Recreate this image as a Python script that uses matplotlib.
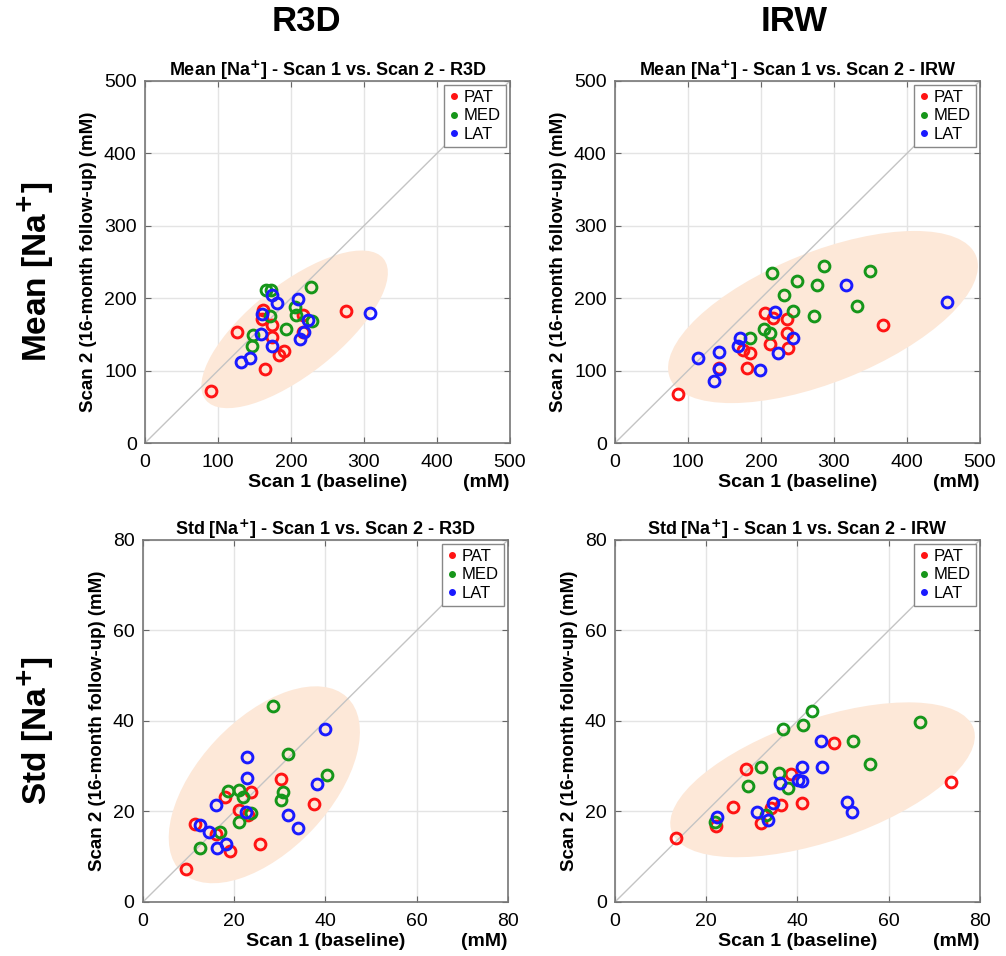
import numpy as np
import matplotlib
matplotlib.use("Agg")
import matplotlib.pyplot as plt
from matplotlib.patches import Ellipse
from matplotlib.lines import Line2D

plt.rcParams['font.family'] = ['Liberation Sans', 'DejaVu Sans']

# ---- data (scan 1 baseline, scan 2 follow-up) ----
# Mean [Na+], R3D
r3d_mean_pat_x = [91, 126, 165, 162, 161, 174, 174, 183, 191, 217, 217, 276]
r3d_mean_pat_y = [72, 154, 102, 184, 171, 163, 147, 122, 127, 177, 154, 183]
r3d_mean_med_x = [166, 172, 227, 206, 207, 229, 193, 148, 147, 171]
r3d_mean_med_y = [211, 212, 216, 188, 177, 169, 157, 149, 134, 175]
r3d_mean_lat_x = [174, 181, 210, 161, 224, 218, 212, 159, 174, 144, 132, 308]
r3d_mean_lat_y = [204, 194, 199, 178, 170, 154, 143, 151, 134, 118, 112, 180]

# Mean [Na+], IRW
irw_mean_pat_x = [86, 143, 181, 176, 185, 212, 237, 235, 206, 217, 235, 367]
irw_mean_pat_y = [68, 103, 104, 129, 125, 137, 131, 152, 179, 173, 171, 163]
irw_mean_med_x = [215, 286, 349, 250, 277, 231, 244, 272, 332, 204, 213, 185]
irw_mean_med_y = [235, 244, 238, 224, 218, 205, 182, 175, 189, 157, 152, 145]
irw_mean_lat_x = [219, 316, 455, 171, 168, 244, 223, 142, 114, 142, 136, 199]
irw_mean_lat_y = [181, 218, 195, 145, 134, 145, 124, 126, 118, 102, 86, 101]

# Std [Na+], R3D
r3d_std_pat_x = [9.4, 11.3, 16.0, 19.0, 18.0, 21.1, 23.7, 23.1, 25.7, 30.3, 37.6]
r3d_std_pat_y = [7.3, 17.2, 15.0, 11.3, 23.2, 20.3, 24.2, 19.2, 12.8, 27.2, 21.6]
r3d_std_med_x = [28.5, 31.8, 40.4, 30.7, 30.3, 18.6, 21.1, 22.0, 23.7, 21.1, 16.9, 12.5]
r3d_std_med_y = [43.3, 32.8, 28.0, 24.2, 22.5, 24.6, 24.7, 23.2, 19.6, 17.7, 15.5, 12.0]
r3d_std_lat_x = [39.8, 22.8, 22.8, 38.2, 16.0, 22.6, 31.9, 34.0, 12.5, 14.4, 16.3, 18.2]
r3d_std_lat_y = [38.3, 32.1, 27.3, 26.0, 21.4, 19.8, 19.2, 16.3, 17.0, 15.4, 12.0, 12.8]

# Std [Na+], IRW
irw_std_pat_x = [13.4, 22.2, 25.8, 28.7, 32.1, 34.1, 36.3, 38.5, 40.9, 48.0, 73.6]
irw_std_pat_y = [14.1, 16.8, 21.0, 29.3, 17.5, 20.7, 21.4, 28.2, 21.9, 35.2, 26.6]
irw_std_med_x = [22.0, 29.1, 32.1, 35.9, 38.0, 36.9, 41.3, 43.1, 52.2, 56.0, 66.9, 33.0]
irw_std_med_y = [17.7, 25.6, 29.9, 28.4, 25.1, 38.2, 39.2, 42.2, 35.5, 30.6, 39.8, 19.2]
irw_std_lat_x = [22.3, 31.1, 33.6, 34.7, 36.1, 40.1, 41.0, 40.9, 45.2, 45.4, 50.8, 52.0]
irw_std_lat_y = [18.8, 19.8, 18.1, 21.9, 26.2, 26.9, 26.8, 29.9, 35.6, 29.9, 22.0, 19.8]

groups = ['PAT', 'MED', 'LAT']
colors = {'PAT': '#ff1414', 'MED': '#16961a', 'LAT': '#1a1aff'}

panels = [
    dict(title='Mean [Na$^{\\mathbf{+}}$] - Scan 1 vs. Scan 2 - R3D', lim=500, step=100,
         pts=[(r3d_mean_pat_x, r3d_mean_pat_y), (r3d_mean_med_x, r3d_mean_med_y),
              (r3d_mean_lat_x, r3d_mean_lat_y)],
         ell=((205, 157), 312, 124, 38.7), pos=[0.1441, 0.5366, 0.3628, 0.3787]),
    dict(title='Mean [Na$^{\\mathbf{+}}$] - Scan 1 vs. Scan 2 - IRW', lim=500, step=100,
         pts=[(irw_mean_pat_x, irw_mean_pat_y), (irw_mean_med_x, irw_mean_med_y),
              (irw_mean_lat_x, irw_mean_lat_y)],
         ell=((285, 174), 452, 180, 22), pos=[0.6113, 0.5366, 0.3628, 0.3787]),
    dict(title='Std [Na$^{\\mathbf{+}}$] - Scan 1 vs. Scan 2 - R3D', lim=80, step=20,
         pts=[(r3d_std_pat_x, r3d_std_pat_y), (r3d_std_med_x, r3d_std_med_y),
              (r3d_std_lat_x, r3d_std_lat_y)],
         ell=((26.6, 25.9), 53.0, 29, 47), pos=[0.1421, 0.0565, 0.3628, 0.3787]),
    dict(title='Std [Na$^{\\mathbf{+}}$] - Scan 1 vs. Scan 2 - IRW', lim=80, step=20,
         pts=[(irw_std_pat_x, irw_std_pat_y), (irw_std_med_x, irw_std_med_y),
              (irw_std_lat_x, irw_std_lat_y)],
         ell=((45.5, 27.0), 70, 27, 19), pos=[0.6113, 0.0565, 0.3628, 0.3787]),
]

fig = plt.figure(figsize=(10.06, 9.56), dpi=100)

for p in panels:
    ax = fig.add_axes(p['pos'])
    lim = p['lim']
    ax.set_xlim(0, lim)
    ax.set_ylim(0, lim)
    ticks = np.arange(0, lim + 1, p['step'])
    ax.set_xticks(ticks)
    ax.set_yticks(ticks)
    ax.grid(True, color='#e4e4e4', linewidth=1)
    ax.set_axisbelow(True)
    ax.tick_params(direction='in', top=True, right=True, length=4,
                   labelsize=14, color='#666666')
    ax.tick_params(axis='x', pad=8)
    ax.tick_params(axis='y', pad=6)
    for s in ax.spines.values():
        s.set_color('#777777')
        s.set_linewidth(1.2)

    (cx, cy), w, h, ang = p['ell']
    ax.add_patch(Ellipse((cx, cy), w, h, angle=ang, facecolor='#fde8d8',
                         edgecolor='none', zorder=1))
    ax.plot([0, lim], [0, lim], color='#c4c4c4', linewidth=1, zorder=2)

    for g, (xs, ys) in zip(groups, p['pts']):
        ax.plot(xs, ys, linestyle='none', marker='o', markersize=7.8,
                markerfacecolor='none', markeredgecolor=colors[g],
                markeredgewidth=2.1, zorder=3)

    handles = [Line2D([], [], linestyle='none', marker='o', markersize=4,
                      color=colors[g]) for g in groups]
    leg = ax.legend(handles, groups, loc='upper right', fontsize=12,
                    handlelength=0.6, handletextpad=0.3, borderpad=0.3,
                    labelspacing=0.2, borderaxespad=0.25, fancybox=False,
                    framealpha=1)
    leg.get_frame().set_edgecolor('#888888')
    leg.get_frame().set_linewidth(1)

    ax.set_title(p['title'], fontsize=13, fontweight='bold', pad=4)
    ax.set_xlabel('Scan 1 (baseline)', fontsize=14, fontweight='bold', labelpad=2)
    ax.set_ylabel('Scan 2 (16-month follow-up) (mM)', fontsize=13.5,
                  fontweight='bold', labelpad=5)
    ax.text(1.0, -0.11, '(mM)', transform=ax.transAxes, ha='right', va='center',
            fontsize=14, fontweight='bold')

hdr = ['Liberation Sans Narrow', 'Liberation Sans', 'DejaVu Sans']
fig.text(0.305, 0.978, 'R3D', ha='center', va='center', fontsize=25,
         fontweight='bold', family=hdr)
fig.text(0.789, 0.978, 'IRW', ha='center', va='center', fontsize=25,
         fontweight='bold', family=hdr)
fig.text(0.036, 0.716, 'Mean [Na$^{\\mathbf{+}}$]', ha='center', va='center',
         rotation=90, fontsize=24, fontweight='bold')
fig.text(0.036, 0.236, 'Std [Na$^{\\mathbf{+}}$]', ha='center', va='center',
         rotation=90, fontsize=24, fontweight='bold')

fig.savefig('out.png', dpi=100)
